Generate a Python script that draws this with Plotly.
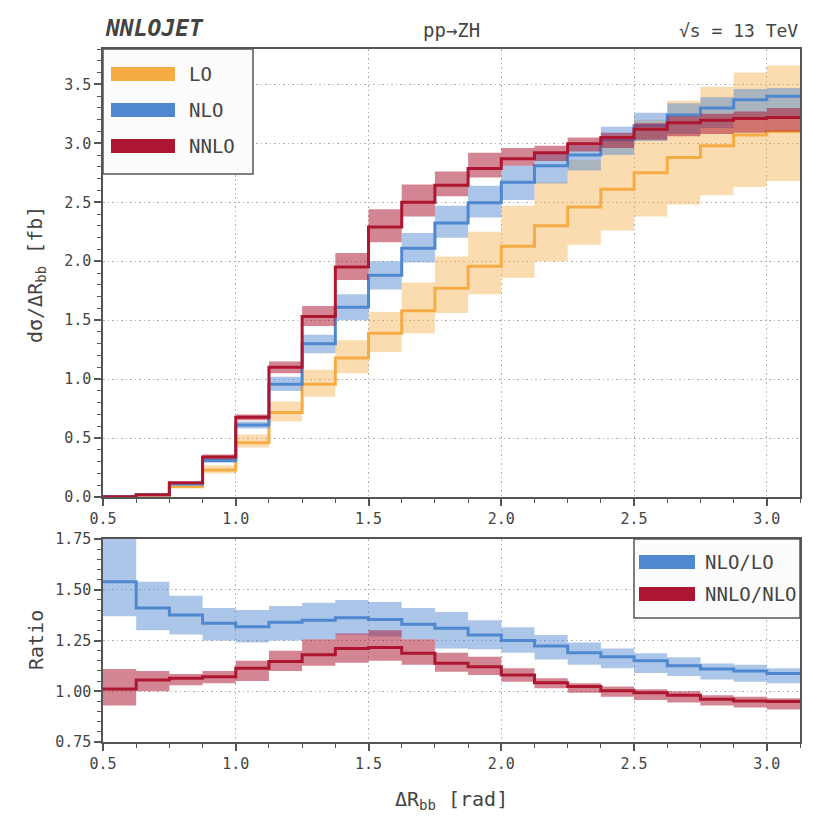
import plotly.graph_objects as go

# ---------------- data ----------------
edges = [0.5, 0.625, 0.75, 0.875, 1.0, 1.125, 1.25, 1.375, 1.5, 1.625, 1.75,
         1.875, 2.0, 2.125, 2.25, 2.375, 2.5, 2.625, 2.75, 2.875, 3.0, 3.125]

lo = [0.002, 0.015, 0.088, 0.23, 0.46, 0.716, 0.957, 1.18, 1.39, 1.58, 1.77,
      1.957, 2.127, 2.30, 2.46, 2.61, 2.75, 2.88, 2.98, 3.07, 3.10]
lo_hi = [0.003, 0.02, 0.10, 0.27, 0.53, 0.81, 1.08, 1.33, 1.57, 1.82, 2.04,
         2.25, 2.47, 2.67, 2.86, 3.04, 3.20, 3.36, 3.48, 3.60, 3.66]
lo_lo = [0.001, 0.012, 0.077, 0.20, 0.42, 0.64, 0.85, 1.05, 1.23, 1.39, 1.56,
         1.72, 1.86, 2.00, 2.14, 2.26, 2.38, 2.48, 2.56, 2.63, 2.68]

nlo = [0.003, 0.02, 0.11, 0.31, 0.61, 0.957, 1.30, 1.61, 1.88, 2.11, 2.325,
       2.495, 2.67, 2.81, 2.90, 3.03, 3.15, 3.24, 3.30, 3.37, 3.40]
nlo_hi = [0.004, 0.025, 0.12, 0.33, 0.64, 1.02, 1.376, 1.72, 2.0, 2.24, 2.47,
          2.64, 2.81, 2.91, 2.98, 3.14, 3.26, 3.34, 3.39, 3.46, 3.47]
nlo_lo = [0.002, 0.017, 0.10, 0.29, 0.58, 0.90, 1.22, 1.50, 1.76, 1.99, 2.20,
          2.37, 2.52, 2.66, 2.77, 2.90, 3.02, 3.08, 3.13, 3.20, 3.23]

nnlo = [0.003, 0.02, 0.12, 0.34, 0.677, 1.10, 1.53, 1.95, 2.29, 2.50, 2.645,
        2.787, 2.87, 2.92, 2.997, 3.05, 3.12, 3.175, 3.195, 3.21, 3.22]
nnlo_hi = [0.004, 0.025, 0.13, 0.36, 0.70, 1.15, 1.62, 2.07, 2.44, 2.65, 2.76,
           2.92, 2.96, 2.98, 3.05, 3.09, 3.17, 3.23, 3.25, 3.27, 3.30]
nnlo_lo = [0.002, 0.017, 0.11, 0.32, 0.65, 1.05, 1.45, 1.84, 2.16, 2.38, 2.55,
           2.71, 2.81, 2.85, 2.93, 2.96, 3.03, 3.06, 3.08, 3.09, 3.10]

r_nlo = [1.54, 1.41, 1.376, 1.335, 1.318, 1.34, 1.35, 1.362, 1.354, 1.33, 1.31,
         1.277, 1.25, 1.223, 1.19, 1.17, 1.15, 1.126, 1.11, 1.10, 1.088]
r_nlo_hi = [1.80, 1.54, 1.47, 1.41, 1.40, 1.42, 1.436, 1.45, 1.44, 1.41, 1.39,
            1.35, 1.315, 1.277, 1.24, 1.21, 1.187, 1.167, 1.137, 1.13, 1.113]
r_nlo_lo = [1.37, 1.30, 1.28, 1.25, 1.24, 1.25, 1.256, 1.277, 1.27, 1.256, 1.21,
            1.207, 1.19, 1.157, 1.13, 1.113, 1.09, 1.075, 1.058, 1.047, 1.04]

r_nnlo = [1.011, 1.055, 1.064, 1.072, 1.113, 1.146, 1.18, 1.21, 1.216, 1.187, 1.138,
          1.121, 1.08, 1.042, 1.023, 1.003, 0.993, 0.98, 0.96, 0.952, 0.949]
r_nnlo_hi = [1.11, 1.10, 1.085, 1.10, 1.15, 1.20, 1.256, 1.285, 1.30, 1.256, 1.19,
             1.17, 1.113, 1.064, 1.04, 1.023, 1.01, 1.0, 0.98, 0.973, 0.966]
r_nnlo_lo = [0.93, 1.0, 1.03, 1.04, 1.05, 1.10, 1.126, 1.14, 1.15, 1.13, 1.096,
             1.08, 1.047, 1.015, 0.993, 0.973, 0.957, 0.944, 0.93, 0.92, 0.91]

main_ticks = [0.0, 0.5, 1.0, 1.5, 2.0, 2.5, 3.0, 3.5]
ratio_ticks = [0.75, 1.00, 1.25, 1.50, 1.75]
x_ticks = [0.5, 1.0, 1.5, 2.0, 2.5, 3.0]

# ---------------- style ----------------
C_LO = "#f5ac45"
C_NLO = "#4f88cf"
C_NNLO = "#ad1630"
F_LO = "rgba(245,172,69,0.42)"
F_NLO = "rgba(79,136,207,0.48)"
F_NNLO = "rgba(173,22,48,0.52)"
FONT = "DejaVu Sans Mono"
TXT = "#444444"
AX = "#555555"
GRID = dict(showgrid=True, gridcolor="#b0b0b0", griddash="1.5px,3px", gridwidth=1.3)


def ext(v):
    return list(v) + [v[-1]]


fig = go.Figure()


def add_series(c, lo_v, hi_v, fillc, col, xa, ya):
    fig.add_trace(go.Scatter(x=edges, y=ext(lo_v), mode="lines", line=dict(width=0, shape="hv"),
                             xaxis=xa, yaxis=ya, showlegend=False, hoverinfo="skip"))
    fig.add_trace(go.Scatter(x=edges, y=ext(hi_v), mode="lines", line=dict(width=0, shape="hv"),
                             fill="tonexty", fillcolor=fillc, xaxis=xa, yaxis=ya,
                             showlegend=False, hoverinfo="skip"))
    fig.add_trace(go.Scatter(x=edges, y=ext(c), mode="lines", line=dict(width=3, shape="hv", color=col),
                             xaxis=xa, yaxis=ya, showlegend=False))


add_series(lo, lo_lo, lo_hi, F_LO, C_LO, "x", "y")
add_series(nlo, nlo_lo, nlo_hi, F_NLO, C_NLO, "x", "y")
add_series(nnlo, nnlo_lo, nnlo_hi, F_NNLO, C_NNLO, "x", "y")
add_series(r_nlo, r_nlo_lo, r_nlo_hi, F_NLO, C_NLO, "x2", "y2")
add_series(r_nnlo, r_nnlo_lo, r_nnlo_hi, F_NNLO, C_NNLO, "x2", "y2")

xcommon = dict(range=[0.5, 3.125], tickvals=x_ticks, ticktext=[f"{t:.1f}" for t in x_ticks],
               showline=True, mirror=True, linecolor=AX, linewidth=1.5,
               ticks="outside", ticklen=7, tickwidth=1.5, tickcolor=AX,
               zeroline=False, tickfont=dict(family=FONT, size=15, color=TXT),
               minor=dict(dtick=0.125, tick0=0.5, ticks="outside", ticklen=4, tickwidth=1, tickcolor=AX,
                          showgrid=False), **GRID)

fig.update_layout(
    width=816, height=830, autosize=False,
    margin=dict(l=103, r=16, t=49, b=88),
    plot_bgcolor="white", paper_bgcolor="white",
    showlegend=False,
    xaxis=dict(domain=[0, 1], anchor="y", **xcommon),
    xaxis2=dict(domain=[0, 1], anchor="y2", **xcommon),
    yaxis=dict(domain=[245 / 693, 1], anchor="x", range=[0, 3.8],
               tickvals=main_ticks, ticktext=[f"{t:.1f}" for t in main_ticks],
               showline=True, mirror=True, linecolor=AX, linewidth=1.5,
               ticks="outside", ticklen=7, tickwidth=1.5, tickcolor=AX,
               zeroline=False, tickfont=dict(family=FONT, size=15, color=TXT),
               minor=dict(dtick=0.1, tick0=0, ticks="outside", ticklen=4, tickwidth=1, tickcolor=AX,
                          showgrid=False), **GRID),
    yaxis2=dict(domain=[0, 203 / 693], anchor="x2", range=[0.75, 1.75],
                tickvals=ratio_ticks, ticktext=[f"{t:.2f}" for t in ratio_ticks],
                showline=True, mirror=True, linecolor=AX, linewidth=1.5,
                ticks="outside", ticklen=7, tickwidth=1.5, tickcolor=AX,
                zeroline=False, tickfont=dict(family=FONT, size=15, color=TXT),
                minor=dict(dtick=0.05, tick0=0.75, ticks="outside", ticklen=4, tickwidth=1, tickcolor=AX,
                           showgrid=False), **GRID),
)


def px(x):
    return (x - 103) / 697


def py(y):
    return (742 - y) / 693


# manual legends
shapes = []
annos = []


def legend_box(x0, y0, x1, y1):
    shapes.append(dict(type="rect", xref="paper", yref="paper", x0=px(x0), x1=px(x1), y0=py(y1), y1=py(y0),
                       fillcolor="#fcfcfc", line=dict(color=AX, width=1.5), layer="above"))


def legend_item(x0, x1, y0, y1, col, label, lx):
    shapes.append(dict(type="rect", xref="paper", yref="paper", x0=px(x0), x1=px(x1), y0=py(y1), y1=py(y0),
                       fillcolor=col, line=dict(width=0), layer="above"))
    annos.append(dict(xref="paper", yref="paper", x=px(lx), y=py((y0 + y1) / 2), text=label, showarrow=False,
                      xanchor="left", yanchor="middle", font=dict(family=FONT, size=19, color=TXT)))


legend_box(103, 49, 253, 174)
legend_item(111, 175, 67, 81, C_LO, "LO", 187)
legend_item(111, 175, 103, 117, C_NLO, "NLO", 187)
legend_item(111, 175, 139, 153, C_NNLO, "NNLO", 187)

legend_box(634, 539, 800, 618)
legend_item(639, 695, 555, 569, C_NLO, "NLO/LO", 703)
legend_item(639, 695, 587, 601, C_NNLO, "NNLO/NLO", 703)

annos += [
    dict(xref="paper", yref="paper", x=px(103), y=py(28), text="<b><i>NNLOJET</i></b>", showarrow=False,
         xanchor="left", yanchor="middle", font=dict(family=FONT, size=23, color=TXT)),
    dict(xref="paper", yref="paper", x=px(451), y=py(30), text="pp→ZH", showarrow=False,
         xanchor="center", yanchor="middle", font=dict(family=FONT, size=19, color=TXT)),
    dict(xref="paper", yref="paper", x=1, y=py(30), text="√s = 13 TeV", showarrow=False,
         xanchor="right", yanchor="middle", font=dict(family=FONT, size=18, color=TXT)),
    dict(xref="paper", yref="paper", x=px(36), y=py(275), text="dσ/ΔR<sub>bb</sub> [fb]", showarrow=False,
         textangle=-90, xanchor="center", yanchor="middle", font=dict(family=FONT, size=20, color=TXT)),
    dict(xref="paper", yref="paper", x=px(36), y=py(640), text="Ratio", showarrow=False,
         textangle=-90, xanchor="center", yanchor="middle", font=dict(family=FONT, size=20, color=TXT)),
    dict(xref="paper", yref="paper", x=px(451), y=py(800), text="ΔR<sub>bb</sub> [rad]", showarrow=False,
         xanchor="center", yanchor="middle", font=dict(family=FONT, size=20, color=TXT)),
]

fig.update_layout(shapes=shapes, annotations=annos)
fig.write_html("out.html")
